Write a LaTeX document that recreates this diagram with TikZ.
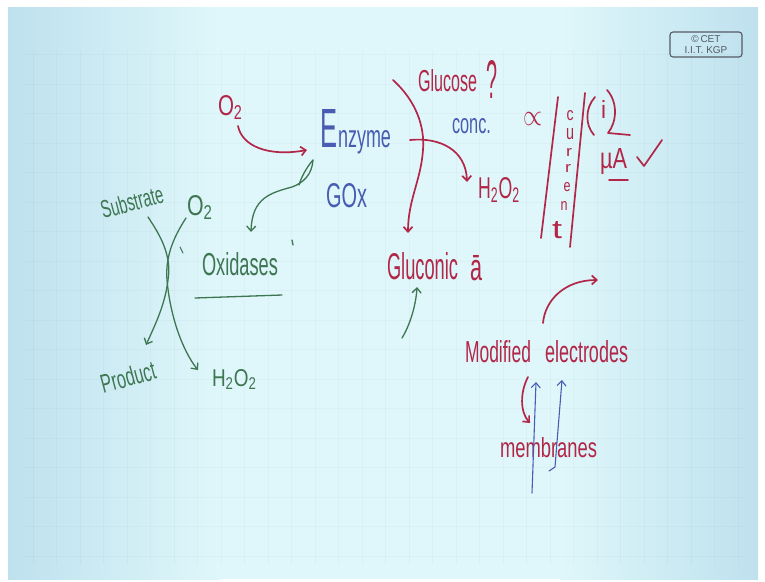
\documentclass[tikz,border=0pt]{standalone}
\usepackage{fontspec}
\setmainfont{Liberation Sans}
\usepackage{graphicx}
\usetikzlibrary{arrows.meta}
\definecolor{ink}{RGB}{178,38,72}
\definecolor{grn}{RGB}{62,118,82}
\definecolor{blu}{RGB}{72,92,178}
\definecolor{bgc}{RGB}{223,247,250}
\definecolor{bge}{RGB}{190,225,238}
\definecolor{cpy}{RGB}{85,90,100}
\newcommand{\hw}[3]{\resizebox{#1pt}{#2pt}{#3}}
\begin{document}
\begin{tikzpicture}[x=1pt,y=-1pt,
  hw/.style={inner sep=0pt, outer sep=0pt, anchor=base west},
  hwc/.style={inner sep=0pt, outer sep=0pt, anchor=center},
  redt/.style={text=ink}, grnt/.style={text=grn}, blut/.style={text=blu},
  redl/.style={draw=ink, line width=1.7pt, line cap=round, line join=round},
  grnl/.style={draw=grn, line width=1.3pt, line cap=round, line join=round},
  blul/.style={draw=blu, line width=1.1pt, line cap=round, line join=round},
  tip/.style={-{Straight Barb[length=5pt,width=9pt]}},
  gridl/.style={draw=black, opacity=0.022, line width=0.6pt}]
% background
\useasboundingbox (0,0) rectangle (765,581);
\fill[white] (0,0) rectangle (765,581);
\shade[left color=bge, right color=bgc] (8,7) rectangle (220,579);
\fill[bgc] (219,7) rectangle (561,579);
\shade[left color=bgc, right color=bge] (560,7) rectangle (758,579);
\foreach \i in {0,...,30} {\draw[gridl] (33+23.5*\i,50) -- (33+23.5*\i,565);}
\foreach \j in {0,...,17} {\draw[gridl] (25,54.5+29.5*\j) -- (745,54.5+29.5*\j);}
% copyright
\node[draw=cpy, line width=1.1pt, rounded corners=3pt, minimum width=72pt, minimum height=25pt,
  inner sep=0pt, align=center, text=cpy, font=\fontsize{10}{10.5}\selectfont] (cpyr) at (706,44.5) {\textcopyright\,CET\\I.I.T. KGP};
% top-left reaction
\node[hw,redt] (o2r) at (218,115) {\hw{25}{20}{O\textsubscript{2}}};
\node[hw,blut] (enzE) at (320,147) {\hw{17}{38}{E}};
\node[hw,blut] (enzR) at (338,147) {\hw{53}{17}{nzyme}};
\node[hw,blut] (gox) at (326,207) {\hw{41}{24}{GOx}};
\coordinate (o2rs) at (238,126);
\coordinate (enzin) at (307,150);
\draw[redl,tip] (o2rs) .. controls (242,146) and (268,157) .. (enzin);
\coordinate (enzg) at (313,160);
\coordinate (oxin) at (251,232);
\draw[grnl] (enzg) .. controls (306,168) and (301,178) .. (299,185);
\draw[grnl,tip] (enzg) .. controls (312,175) and (303,183) .. (292,187) .. controls (270,193) and (252,198) .. (oxin);
% oxidases
\node[hw,grnt] (oxid) at (202,275) {\hw{76}{23}{Oxidases}};
\draw[grnl] (195,298) -- (282,295);
\draw[grnl] (292,240) -- (293,245);
\node[hwc,grnt,rotate=15] (subs) at (132,202) {\hw{64}{18}{Substrate}};
\node[hw,grnt] (o2g) at (187,215) {\hw{26}{20}{O\textsubscript{2}}};
\node[hwc,grnt,rotate=15] (prod) at (128,377) {\hw{56}{19}{Product}};
\node[hw,grnt] (h2o2g) at (212,386) {\hw{45}{17}{H\textsubscript{2}O\textsubscript{2}}};
\coordinate (xa) at (148,217);
\coordinate (xb) at (186,218);
\coordinate (xpa) at (146,345);
\coordinate (xpb) at (198,370);
\draw[grnl,tip] (xa) .. controls (160,235) and (172,255) .. (168,280) .. controls (165,305) and (155,325) .. (xpa);
\draw[grnl,tip] (xb) .. controls (175,235) and (165,255) .. (167,280) .. controls (170,315) and (182,350) .. (xpb);
\draw[grnl, line width=1pt] (180,247) -- (183,253);
% glucose branch
\node[hw,redt] (gluc) at (418,91) {\hw{59}{22}{Glucose}};
\node[hw,redt] (qm) at (486,98) {\hw{11}{38}{?}};
\node[hw,blut] (conc) at (452,133) {\hw{39}{15}{conc.}};
\node[hw,redt] (h2o2r) at (478,198) {\hw{42}{21}{H\textsubscript{2}O\textsubscript{2}}};
\coordinate (gls) at (393,80);
\coordinate (gle) at (408,233);
\draw[redl,tip] (gls) .. controls (415,100) and (425,125) .. (423,150) .. controls (421,180) and (408,200) .. (gle);
\coordinate (brs) at (410,140);
\coordinate (bre) at (467,182);
\draw[redl,tip] (brs) .. controls (440,137) and (466,150) .. (bre);
\node[hw,redt] (glna) at (387,279) {\hw{71}{27}{Gluconic}};
\node[hw,redt] (abar) at (470,280) {\hw{12}{25}{ā}};
\coordinate (gna) at (402,338);
\coordinate (gnb) at (417,287);
\draw[grnl,tip] (gna) .. controls (410,325) and (416,305) .. (gnb);
% proportional to current
\node[hw,redt] (prop) at (523,125) {\hw{19}{13}{$\propto$}};
\coordinate (b1t) at (558,97); \coordinate (b1b) at (541,238);
\coordinate (b2t) at (585,93); \coordinate (b2b) at (570,247);
\draw[redl] (b1t) -- (b1b);
\draw[redl] (b2t) -- (b2b);
\node[hwc,redt] (cc) at (570,116) {\hw{7}{10}{c}};
\node[hwc,redt] (cu) at (570,134) {\hw{8}{11}{u}};
\node[hwc,redt] (cr1) at (569,152) {\hw{6}{8}{r}};
\node[hwc,redt] (cr2) at (568,168) {\hw{6}{8}{r}};
\node[hwc,redt] (ce) at (567,187) {\hw{7}{9}{e}};
\node[hwc,redt] (cn) at (564,206) {\hw{7}{9}{n}};
\node[hwc,redt] (ct) at (557,230) {\hw{10}{17}{t}};
\draw[redl] (595,97) .. controls (585,108) and (585,125) .. (594,135);
\node[hw,redt] (ii) at (601,118) {\hw{5}{18}{i}};
\draw[redl] (607,90) .. controls (618,102) and (617,122) .. (608,133) -- (630,135);
\node[hw,redt] (mua) at (600,168) {\hw{27}{20}{µA}};
\draw[redl] (609,180) -- (628,180);
\draw[redl] (637,157) -- (644,166) -- (662,140);
% modified electrodes
\node[hw,redt] (modf) at (465,362) {\hw{66}{22}{Modified}};
\node[hw,redt] (elec) at (545,362) {\hw{83}{22}{electrodes}};
\coordinate (arcs) at (543,323);
\coordinate (arce) at (598,280);
\draw[redl,tip] (arcs) .. controls (545,300) and (565,280) .. (arce);
\node[hw,redt] (memb) at (500,457) {\hw{97}{20}{membranes}};
\coordinate (bl1b) at (532,493); \coordinate (bl1t) at (536,382);
\draw[blul,tip] (bl1b) -- (bl1t);
\coordinate (bl2b) at (549,471); \coordinate (bl2t) at (562,380);
\draw[blul,tip] (bl2b) -- (555,467) -- (bl2t);
\coordinate (rms) at (528,377); \coordinate (rme) at (530,423);
\draw[redl,tip] (rms) .. controls (520,392) and (520,412) .. (rme);
\end{tikzpicture}
\end{document}
